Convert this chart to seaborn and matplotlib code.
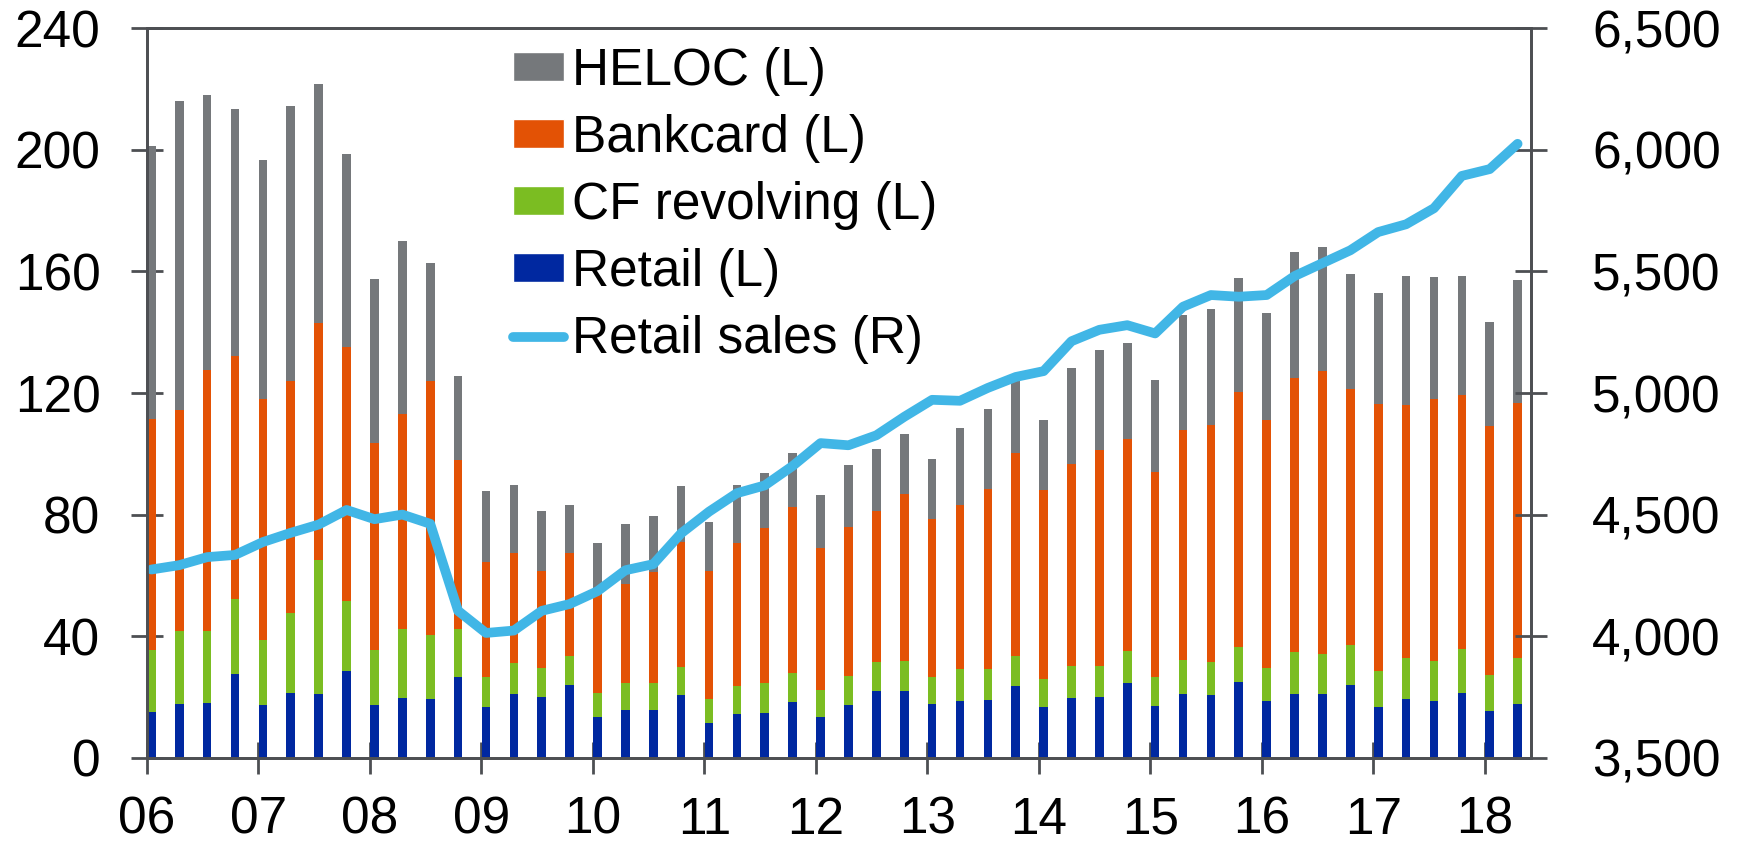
"""
Consumer revolving credit by product (stacked bars, left axis)
against retail sales (line, right axis), quarterly 2006-2018.
"""

import numpy as np
import pandas as pd
import matplotlib
matplotlib.use('Agg')
import matplotlib.pyplot as plt
from matplotlib.patches import Patch
from matplotlib.lines import Line2D
from matplotlib.ticker import FuncFormatter
import seaborn as sns


# Quarters 2006Q1 .. 2018Q2
years = list(range(2006, 2019))
quarters = [f"{y % 100:02d}Q{q}" for y in years for q in range(1, 5)][:50]
year_labels = [f"{y % 100:02d}" for y in years]

# Left axis components
retail = [15.1, 17.8, 18.1, 27.5, 17.5, 21.3, 21.0, 28.5, 17.2, 19.5,
          19.3, 26.4, 16.6, 21.1, 19.9, 24.0, 13.3, 15.8, 15.8, 20.7,
          11.5, 14.5, 14.8, 18.4, 13.3, 17.5, 22.0, 22.0, 17.8, 18.7,
          19.0, 23.5, 16.8, 19.6, 20.1, 24.6, 17.1, 20.8, 20.5, 24.8,
          18.6, 21.1, 20.8, 23.8, 16.8, 19.2, 18.7, 21.3, 15.2, 17.8]

cf_revolving = [20.4, 23.9, 23.6, 24.7, 21.3, 26.4, 44.1, 23.1, 18.3, 22.9,
                21.0, 16.0, 9.8, 10.1, 9.7, 9.5, 8.1, 8.7, 8.7, 9.2,
                7.8, 9.0, 9.7, 9.5, 9.0, 9.4, 9.4, 9.7, 8.8, 10.4,
                10.1, 9.9, 9.0, 10.6, 10.1, 10.6, 9.3, 11.4, 11.0, 11.7,
                11.0, 13.8, 13.3, 13.3, 11.6, 13.7, 13.1, 14.6, 12.1, 15.1]

bankcard = [76.0, 72.6, 86.0, 80.0, 79.1, 76.4, 77.8, 83.6, 68.2, 70.7,
            83.8, 55.7, 38.1, 36.0, 31.8, 33.7, 32.6, 32.6, 36.7, 41.0,
            42.2, 47.2, 51.0, 54.5, 46.8, 48.9, 49.8, 55.1, 52.0, 54.2,
            59.2, 67.0, 62.2, 66.6, 70.9, 69.6, 67.5, 75.7, 77.9, 83.9,
            81.5, 90.1, 93.3, 84.3, 88.1, 83.2, 86.1, 83.6, 81.7, 83.9]

heloc = [89.7, 101.9, 90.4, 81.2, 78.9, 90.2, 78.7, 63.6, 53.9, 57.0,
         38.6, 27.5, 23.3, 22.6, 19.8, 16.0, 16.7, 19.7, 18.4, 18.6,
         16.2, 19.0, 18.1, 17.7, 17.5, 20.4, 20.4, 19.6, 19.8, 25.1,
         26.6, 25.8, 23.1, 31.4, 32.9, 31.5, 30.4, 37.8, 38.1, 37.3,
         35.1, 41.3, 40.6, 37.8, 36.4, 42.5, 40.3, 39.0, 34.4, 40.5]

# Right axis
retail_sales = [4274, 4292, 4325, 4334, 4387, 4425, 4459, 4519, 4481, 4500,
                4462, 4104, 4013, 4023, 4104, 4132, 4185, 4271, 4296, 4423,
                4512, 4588, 4620, 4700, 4794, 4785, 4826, 4902, 4972, 4968,
                5021, 5066, 5090, 5213, 5260, 5279, 5245, 5355, 5403, 5396,
                5403, 5481, 5534, 5587, 5662, 5694, 5760, 5893, 5921, 6025]

GRAY = '#75787B'
ORANGE = '#E35205'
GREEN = '#7BBD22'
BLUE = '#0028A0'
LIGHT_BLUE = '#41B6E6'
SPINE = '#4D4F53'


def build_frame():
    df = pd.DataFrame({
        'quarter': quarters,
        'pos': np.arange(len(quarters)),
        'retail': retail,
        'cf': cf_revolving,
        'bankcard': bankcard,
        'heloc': heloc,
        'sales': retail_sales,
    })
    # cumulative tops for the stacked look (drawn tallest first)
    df['top_retail'] = df['retail']
    df['top_cf'] = df['top_retail'] + df['cf']
    df['top_bankcard'] = df['top_cf'] + df['bankcard']
    df['top_heloc'] = df['top_bankcard'] + df['heloc']
    return df


def main():
    sns.set_style('white')
    plt.rcParams['font.family'] = ['Liberation Sans', 'DejaVu Sans']
    plt.rcParams['text.color'] = 'black'

    df = build_frame()

    fig = plt.figure(figsize=(17.44, 8.43), dpi=100)
    ax = fig.add_axes([0.0841, 0.1012, 0.7936, 0.8652])

    bar_w = 0.31
    for col, color in [('top_heloc', GRAY), ('top_bankcard', ORANGE),
                       ('top_cf', GREEN), ('top_retail', BLUE)]:
        sns.barplot(data=df, x='pos', y=col, color=color, width=bar_w,
                    saturation=1, linewidth=0, errorbar=None, ax=ax)

    ax2 = ax.twinx()
    sns.lineplot(data=df, x='pos', y='sales', ax=ax2, color=LIGHT_BLUE,
                 linewidth=7, solid_capstyle='round', solid_joinstyle='round',
                 legend=False)

    # axes ranges / ticks
    offset = bar_w / 2 + 0.015
    ax.set_xlim(-offset, -offset + 49.64)
    ax.set_xticks(np.arange(0, 49, 4) - offset)
    ax.set_xticklabels(year_labels)
    ax.set_ylim(0, 240)
    ax.set_yticks(np.arange(0, 241, 40))
    ax2.set_ylim(3500, 6500)
    ax2.set_yticks(np.arange(3500, 6501, 500))
    ax2.yaxis.set_major_formatter(FuncFormatter(lambda v, p: f"{v:,.0f}"))

    for a in (ax, ax2):
        a.set_xlabel('')
        a.set_ylabel('')
        for s in a.spines.values():
            s.set_visible(True)
            s.set_color(SPINE)
            s.set_linewidth(2)

    ax.tick_params(axis='y', direction='inout', length=22.6, width=2,
                   color=SPINE, labelcolor='black', labelsize=37, pad=22,
                   left=True)
    ax.tick_params(axis='x', direction='inout', length=22.6, width=2,
                   color=SPINE, labelcolor='black', labelsize=37, pad=16,
                   bottom=True)
    ax2.tick_params(axis='y', direction='inout', length=22.6, width=2,
                    color=SPINE, labelcolor='black', labelsize=37, pad=33,
                    right=True)

    handles = [
        Patch(facecolor=GRAY, label='HELOC (L)'),
        Patch(facecolor=ORANGE, label='Bankcard (L)'),
        Patch(facecolor=GREEN, label='CF revolving (L)'),
        Patch(facecolor=BLUE, label='Retail (L)'),
        Line2D([], [], color=LIGHT_BLUE, linewidth=7,
               solid_capstyle='round', label='Retail sales (R)'),
    ]
    leg = ax2.legend(handles=handles, loc='upper left',
                     bbox_to_anchor=(513 / 1744, 1 - 47 / 843),
                     bbox_transform=fig.transFigure, frameon=False,
                     fontsize=37, handlelength=1.0, handleheight=0.5,
                     handletextpad=0.15, labelspacing=0.35,
                     borderpad=0, borderaxespad=0)
    for t in leg.get_texts():
        t.set_color('black')

    fig.savefig('out.png', dpi=100)
    plt.close(fig)


if __name__ == '__main__':
    main()
